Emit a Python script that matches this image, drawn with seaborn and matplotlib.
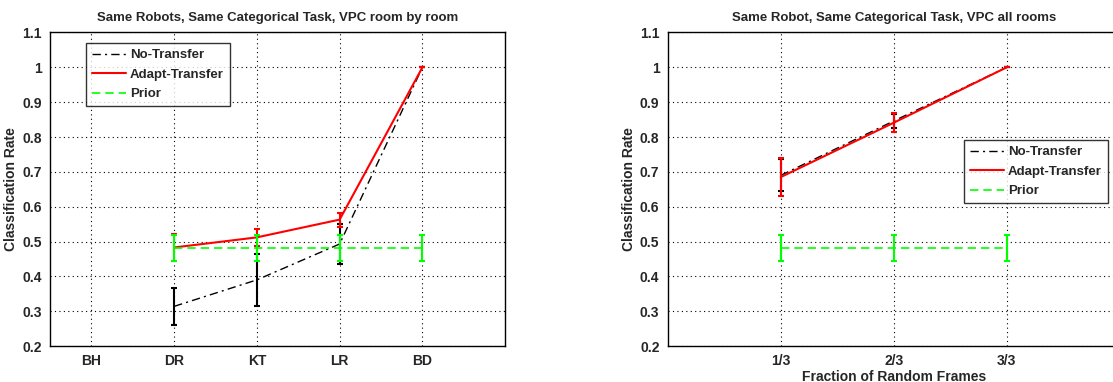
import numpy as np
import pandas as pd
import matplotlib
matplotlib.use("Agg")
import matplotlib.pyplot as plt
import seaborn as sns

# left panel: room by room
rooms = ["BH", "DR", "KT", "LR", "BD"]
room_no_transfer = [np.nan, 0.314, 0.39, 0.493, 1.0]
room_no_transfer_err = [np.nan, 0.053, 0.075, 0.057, 0.0]
room_adapt = [np.nan, 0.483, 0.512, 0.563, 1.0]
room_adapt_err = [np.nan, 0.04, 0.025, 0.02, 0.0]
room_prior = [np.nan, 0.482, 0.482, 0.482, 0.482]
room_prior_err = [np.nan, 0.037, 0.037, 0.037, 0.037]

# right panel: all rooms, fraction of frames
fractions = ["1/3", "2/3", "3/3"]
frac_no_transfer = [0.69, 0.846, 1.0]
frac_no_transfer_err = [0.046, 0.02, 0.0]
frac_adapt = [0.685, 0.841, 1.0]
frac_adapt_err = [0.054, 0.028, 0.0]
frac_prior = [0.482, 0.482, 0.482]
frac_prior_err = [0.037, 0.037, 0.037]

sns.set_style("white")
plt.rcParams["font.family"] = ["Liberation Sans", "DejaVu Sans"]
plt.rcParams["font.weight"] = "bold"
plt.rcParams["axes.titleweight"] = "bold"
plt.rcParams["axes.labelweight"] = "bold"

GREEN = (0, 1, 0)
STYLES = {
    "No-Transfer": dict(color="black", ls=(0, (6, 3, 1.5, 3)), lw=1.0),
    "Adapt-Transfer": dict(color="red", ls="-", lw=1.5),
    "Prior": dict(color=GREEN, ls=(0, (5, 3)), lw=1.2),
}


def draw_panel(ax, labels, series, xlim):
    x = np.arange(1, len(labels) + 1)
    for name, (vals, errs) in series.items():
        st = STYLES[name]
        df = pd.DataFrame({"x": x, "y": vals}).dropna()
        sns.lineplot(data=df, x="x", y="y", ax=ax, color=st["color"],
                     lw=st["lw"], label=name)
        ax.lines[-1].set_linestyle(st["ls"])
        ax.errorbar(x, vals, yerr=errs, fmt="none", ecolor=st["color"],
                    elinewidth=1.5, capsize=2.5, capthick=1.5)
    ax.set_xlim(*xlim)
    ax.set_ylim(0.2, 1.1)
    ax.set_xticks(x)
    ax.set_xticklabels(labels)
    yt = np.round(np.arange(0.2, 1.11, 0.1), 1)
    ax.set_yticks(yt)
    ax.set_yticklabels(["1" if v == 1 else f"{v:g}" for v in yt])
    ax.grid(True, color="black", ls=(0, (1, 3)), lw=0.8)
    ax.tick_params(direction="in", length=4, labelsize=10, pad=6)
    for s in ax.spines.values():
        s.set_color("black")
        s.set_linewidth(1.0)
    ax.set_ylabel("Classification Rate", fontsize=10, labelpad=3)


fig = plt.figure(figsize=(11.13, 3.82), dpi=100)
ax1 = fig.add_axes([0.0449, 0.094, 0.409, 0.821])
ax2 = fig.add_axes([0.600, 0.094, 0.406, 0.821])

draw_panel(ax1, rooms, {
    "No-Transfer": (room_no_transfer, room_no_transfer_err),
    "Adapt-Transfer": (room_adapt, room_adapt_err),
    "Prior": (room_prior, room_prior_err),
}, (0.5, 6))
ax1.set_xlabel("")
ax1.set_title("Same Robots, Same Categorical Task, VPC room by room",
              fontsize=9.5, pad=8)

draw_panel(ax2, fractions, {
    "No-Transfer": (frac_no_transfer, frac_no_transfer_err),
    "Adapt-Transfer": (frac_adapt, frac_adapt_err),
    "Prior": (frac_prior, frac_prior_err),
}, (0, 4))
ax2.set_xlabel("Fraction of Random Frames", fontsize=10, labelpad=1)
ax2.set_title("Same Robot, Same Categorical Task, VPC all rooms",
              fontsize=9.5, pad=8)

leg_kw = dict(frameon=True, fancybox=False, edgecolor="black", fontsize=9.5,
              handlelength=2.6, borderpad=0.45, labelspacing=0.55,
              handletextpad=0.3, borderaxespad=0)
l1 = ax1.legend(loc="upper left", bbox_to_anchor=(0.079, 0.966), **leg_kw)
l2 = ax2.legend(loc="upper left", bbox_to_anchor=(0.655, 0.657), **leg_kw)
for leg in (l1, l2):
    leg.get_frame().set_linewidth(1.0)
    for h, name in zip(leg.get_lines(), STYLES):
        h.set_linestyle(STYLES[name]["ls"])

fig.savefig("out.png", dpi=100)
